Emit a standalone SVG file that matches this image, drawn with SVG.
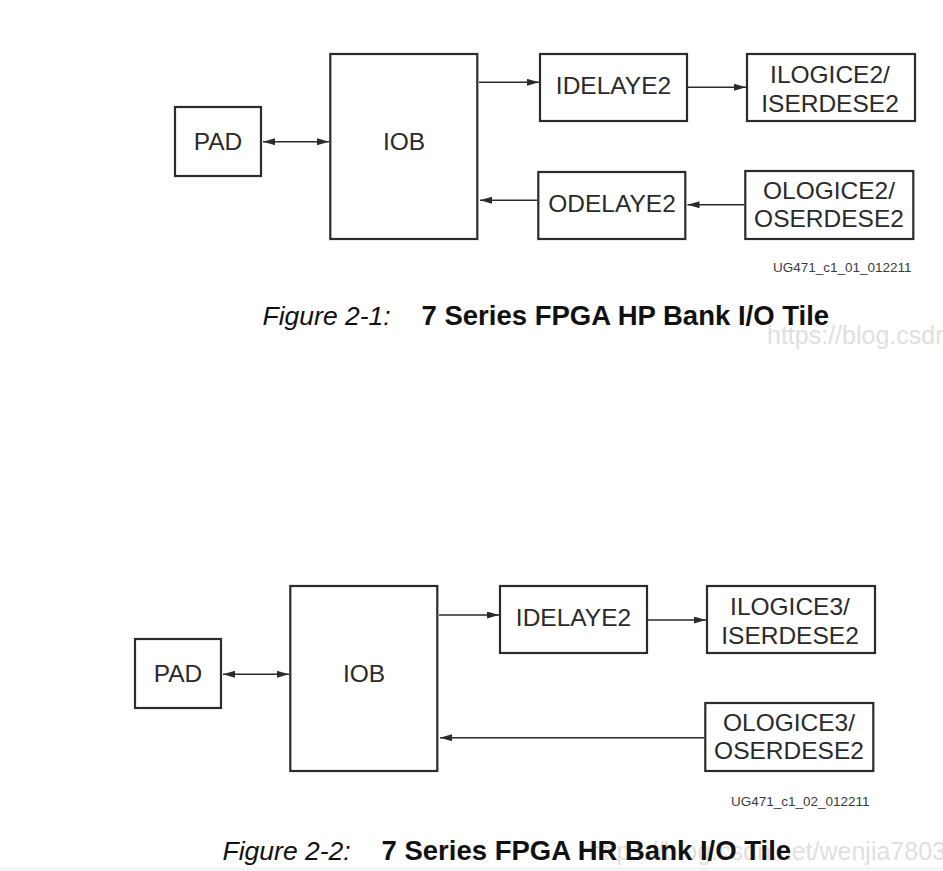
<svg xmlns="http://www.w3.org/2000/svg" width="943" height="871" viewBox="0 0 943 871">
<style>
.box{fill:#fff;stroke:#2b2b2b;stroke-width:2.2}
.lbl{font-family:"Liberation Sans",Arial,sans-serif;font-size:24.5px;fill:#2a2a2a;text-anchor:middle}
.conn{stroke:#2b2b2b;stroke-width:1.4;fill:none}
.tag{font-family:"Liberation Sans",Arial,sans-serif;font-size:13.5px;fill:#3a3a3a}
.capi{font-family:"Liberation Sans",Arial,sans-serif;font-size:26.5px;font-style:italic;fill:#111}
.capb{font-family:"Liberation Sans",Arial,sans-serif;font-size:27.5px;font-weight:bold;fill:#111}
.wm{font-family:"Liberation Sans",Arial,sans-serif;font-size:25px;fill:#e0e0e0}
</style>
<defs>
<marker id="ah" markerUnits="userSpaceOnUse" markerWidth="13" markerHeight="8" refX="12" refY="3.5" orient="auto-start-reverse">
<path d="M0,0 L12,3.5 L0,7 z" fill="#2b2b2b"/>
</marker>
</defs>
<rect width="943" height="871" fill="#fff"/>
<rect x="0" y="867" width="943" height="4" fill="#f4f4f4"/>

<!-- watermarks (behind) -->
<text class="wm" x="767" y="344">https://blog.csdn</text>
<text class="wm" x="946" y="860" text-anchor="end">https://blog.csdn.net/wenjia7803</text>

<!-- Figure 2-1 -->
<g id="f1-pad"><rect class="box" x="175" y="107" width="86" height="69"/><text class="lbl" x="218" y="149.5">PAD</text></g>
<g id="f1-iob"><rect class="box" x="330.3" y="54" width="147" height="185"/><text class="lbl" x="404" y="149.5">IOB</text></g>
<g id="f1-idelay"><rect class="box" x="540" y="54" width="147" height="67"/><text class="lbl" x="613.5" y="93.5">IDELAYE2</text></g>
<g id="f1-ilogic"><rect class="box" x="747" y="54" width="168" height="67"/><text class="lbl" x="830" y="82.5">ILOGICE2/</text><text class="lbl" x="830" y="112">ISERDESE2</text></g>
<g id="f1-odelay"><rect class="box" x="538.3" y="172" width="147" height="67"/><text class="lbl" x="612" y="212">ODELAYE2</text></g>
<g id="f1-ologic"><rect class="box" x="745.3" y="171" width="168" height="68"/><text class="lbl" x="829" y="198.5">OLOGICE2/</text><text class="lbl" x="829" y="226.5">OSERDESE2</text></g>
<g id="f1-tag"><text class="tag" x="773" y="272">UG471_c1_01_012211</text></g>
<g id="f1-caption"><text class="capi" x="262.5" y="325">Figure 2-1:</text><text class="capb" x="421.5" y="325">7 Series FPGA HP Bank I/O Tile</text></g>

<!-- Figure 2-2 -->
<g id="f2-pad"><rect class="box" x="135" y="639" width="86" height="69"/><text class="lbl" x="178" y="681.5">PAD</text></g>
<g id="f2-iob"><rect class="box" x="290.3" y="586" width="147" height="185"/><text class="lbl" x="364" y="681.5">IOB</text></g>
<g id="f2-idelay"><rect class="box" x="500" y="586" width="147" height="67"/><text class="lbl" x="573.5" y="625.5">IDELAYE2</text></g>
<g id="f2-ilogic"><rect class="box" x="707" y="586" width="168" height="67"/><text class="lbl" x="790" y="614.5">ILOGICE3/</text><text class="lbl" x="790" y="644">ISERDESE2</text></g>
<g id="f2-ologic"><rect class="box" x="705.3" y="703" width="168" height="68"/><text class="lbl" x="789" y="730.5">OLOGICE3/</text><text class="lbl" x="789" y="758.5">OSERDESE2</text></g>
<g id="f2-tag"><text class="tag" x="731" y="805.5">UG471_c1_02_012211</text></g>
<g id="f2-caption"><text class="capi" x="222.5" y="860">Figure 2-2:</text><text class="capb" x="381.5" y="860">7 Series FPGA HR Bank I/O Tile</text></g>

<g id="connectors">
<line class="conn" x1="263" y1="141.7" x2="329" y2="141.7" marker-start="url(#ah)" marker-end="url(#ah)"/>
<line class="conn" x1="479" y1="82.3" x2="539" y2="82.3" marker-end="url(#ah)"/>
<line class="conn" x1="688" y1="87.3" x2="746" y2="87.3" marker-end="url(#ah)"/>
<line class="conn" x1="744" y1="204.7" x2="687.5" y2="204.7" marker-end="url(#ah)"/>
<line class="conn" x1="537" y1="200.3" x2="480" y2="200.3" marker-end="url(#ah)"/>

<line class="conn" x1="223" y1="674.3" x2="289" y2="674.3" marker-start="url(#ah)" marker-end="url(#ah)"/>
<line class="conn" x1="439" y1="615" x2="499" y2="615" marker-end="url(#ah)"/>
<line class="conn" x1="648" y1="620" x2="706" y2="620" marker-end="url(#ah)"/>
<line class="conn" x1="704" y1="737.7" x2="440" y2="737.7" marker-end="url(#ah)"/>
</g>
</svg>
